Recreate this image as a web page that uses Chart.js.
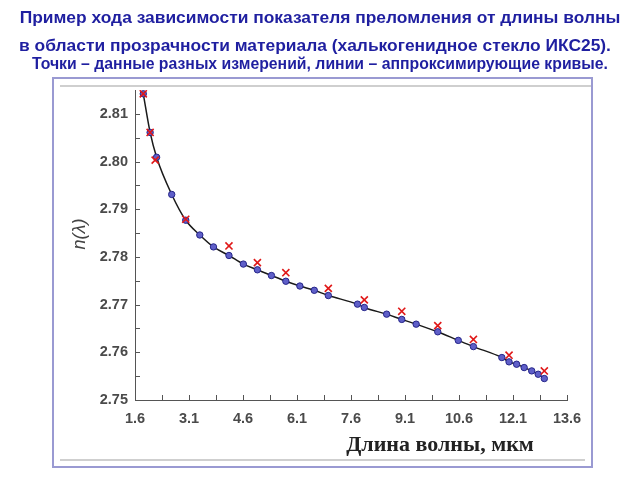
<!DOCTYPE html>
<html>
<head>
<meta charset="utf-8">
<script src="https://cdn.jsdelivr.net/npm/chart.js@4"></script>
<style>
  html, body { margin: 0; padding: 0; background: #fff; }
  canvas { display: block; }
</style>
</head>
<body>
<canvas id="chart" width="640" height="480"></canvas>
<script>
// Измерения 1 (синие точки) и аппроксимирующая кривая
const wl1 = [1.83, 2.02, 2.20, 2.62, 3.01, 3.40, 3.78, 4.21, 4.61, 5.00, 5.39, 5.79, 6.18, 6.58, 6.97,
             7.78, 7.97, 8.59, 9.01, 9.41, 10.01, 10.58, 11.00, 11.79, 11.99, 12.20, 12.41, 12.62, 12.80, 12.97];
const n1  = [2.8142, 2.8061, 2.8009, 2.7931, 2.7877, 2.7846, 2.7821, 2.7803, 2.7785, 2.7773, 2.7761, 2.7749, 2.7739, 2.7730, 2.7719,
             2.7701, 2.7694, 2.7680, 2.7669, 2.7659, 2.7643, 2.7625, 2.7612, 2.7589, 2.7580, 2.7575, 2.7568, 2.7561, 2.7554, 2.7545];

// Измерения 2 (красные крестики)
const wl2 = [1.83, 2.02, 2.16, 3.01, 4.21, 5.00, 5.79, 6.97, 7.97, 9.01, 10.01, 11.00, 11.99, 12.97];
const n2  = [2.8142, 2.8061, 2.8003, 2.7879, 2.7823, 2.7788, 2.7767, 2.7734, 2.7710, 2.7686, 2.7656, 2.7627, 2.7594, 2.7561];

// Оси
const xMin = 1.6, xMax = 13.6, xStep = 1.5, xMinor = 0.75;
const yMin = 2.75, yMax = 2.815, yStep = 0.01, yMinor = 0.005;

const titleLines = [
  'Пример хода зависимости показателя преломления от длины волны',
  'в области прозрачности материала (халькогенидное стекло ИКС25).',
  'Точки – данные разных измерений, линии – аппроксимирующие кривые.'
];
const xTitle = 'Длина волны, мкм';
const yTitle = 'n(λ)';

const pts = (xs, ys) => xs.map((x, i) => ({ x, y: ys[i] }));

// рамка, заголовки, засечки
const decor = {
  id: 'decor',
  beforeDraw(chart) {
    const ctx = chart.ctx;
    ctx.save();
    ctx.fillStyle = '#fff';
    ctx.fillRect(0, 0, chart.width, chart.height);
    ctx.strokeStyle = '#9a9ad2';
    ctx.lineWidth = 2;
    ctx.strokeRect(53, 78, 539, 389);
    ctx.strokeStyle = '#cfcfcf';
    ctx.beginPath();
    ctx.moveTo(60, 86); ctx.lineTo(591, 86);
    ctx.moveTo(60, 460); ctx.lineTo(585, 460);
    ctx.stroke();
    ctx.restore();
  },
  afterDraw(chart) {
    const ctx = chart.ctx;
    const xs = chart.scales.x, ys = chart.scales.y;
    ctx.save();
    // засечки внутрь
    ctx.strokeStyle = '#555';
    ctx.lineWidth = 1;
    ctx.beginPath();
    for (let v = xMin; v <= xMax + 1e-9; v += xMinor) {
      const px = Math.round(xs.getPixelForValue(v)) + 0.5;
      ctx.moveTo(px, ys.bottom); ctx.lineTo(px, ys.bottom - 5);
    }
    for (let v = yMin; v < yMax - 1e-9; v += yMinor) {
      const py = Math.round(ys.getPixelForValue(v)) + 0.5;
      ctx.moveTo(xs.left, py); ctx.lineTo(xs.left + 5, py);
    }
    ctx.stroke();

    // заголовок
    ctx.fillStyle = '#1f1fa0';
    ctx.textAlign = 'center';
    ctx.textBaseline = 'middle';
    ctx.font = 'bold 17.4px "Liberation Sans", Arial, sans-serif';
    ctx.fillText(titleLines[0], 320, 18);
    ctx.fillText(titleLines[1], 315, 46);
    ctx.font = 'bold 15.8px "Liberation Sans", Arial, sans-serif';
    ctx.fillText(titleLines[2], 320, 65);

    // подписи осей
    ctx.fillStyle = '#222';
    ctx.font = 'bold 22px "Liberation Serif", "Times New Roman", serif';
    ctx.fillText(xTitle, 440, 445);

    ctx.translate(80, 234);
    ctx.rotate(-Math.PI / 2);
    ctx.fillStyle = '#444';
    ctx.font = 'italic 18px "Liberation Sans", Arial, sans-serif';
    ctx.fillText(yTitle, 0, 0);
    ctx.restore();
  }
};

new Chart(document.getElementById('chart'), {
  type: 'scatter',
  data: {
    datasets: [
      {
        label: 'Измерения 1',
        data: pts(wl1, n1),
        showLine: true,
        borderColor: '#1a1a1a',
        borderWidth: 1.5,
        cubicInterpolationMode: 'monotone',
        pointRadius: 3.2,
        pointBackgroundColor: '#5f5fc8',
        pointBorderColor: '#26268a',
        pointBorderWidth: 1,
        order: 2
      },
      {
        label: 'Измерения 2',
        data: pts(wl2, n2),
        showLine: false,
        pointStyle: 'crossRot',
        pointRadius: 5,
        pointBorderColor: '#e01818',
        pointBorderWidth: 1.6,
        order: 1
      }
    ]
  },
  options: {
    responsive: false,
    animation: false,
    layout: { padding: { top: 90, left: 53, right: 73, bottom: 20 } },
    plugins: { legend: { display: false }, tooltip: { enabled: false }, title: { display: false } },
    scales: {
      x: {
        type: 'linear',
        min: xMin, max: xMax,
        grid: { display: false, drawTicks: false },
        border: { display: true, color: '#555', width: 1 },
        ticks: {
          stepSize: xStep,
          includeBounds: false,
          padding: 10,
          color: '#4a4a4a',
          font: { family: '"Liberation Sans", Arial, sans-serif', size: 14.5, weight: 'bold' },
          callback: v => v.toFixed(1)
        },
        afterFit: s => { s.height = 60; }
      },
      y: {
        type: 'linear',
        min: yMin, max: yMax,
        grid: { display: false, drawTicks: false },
        border: { display: true, color: '#555', width: 1 },
        ticks: {
          stepSize: yStep,
          includeBounds: false,
          padding: 7,
          color: '#4a4a4a',
          font: { family: '"Liberation Sans", Arial, sans-serif', size: 14.5, weight: 'bold' },
          callback: v => v.toFixed(2)
        },
        afterFit: s => { s.width = 82; }
      }
    }
  },
  plugins: [decor]
});
</script>
</body>
</html>
